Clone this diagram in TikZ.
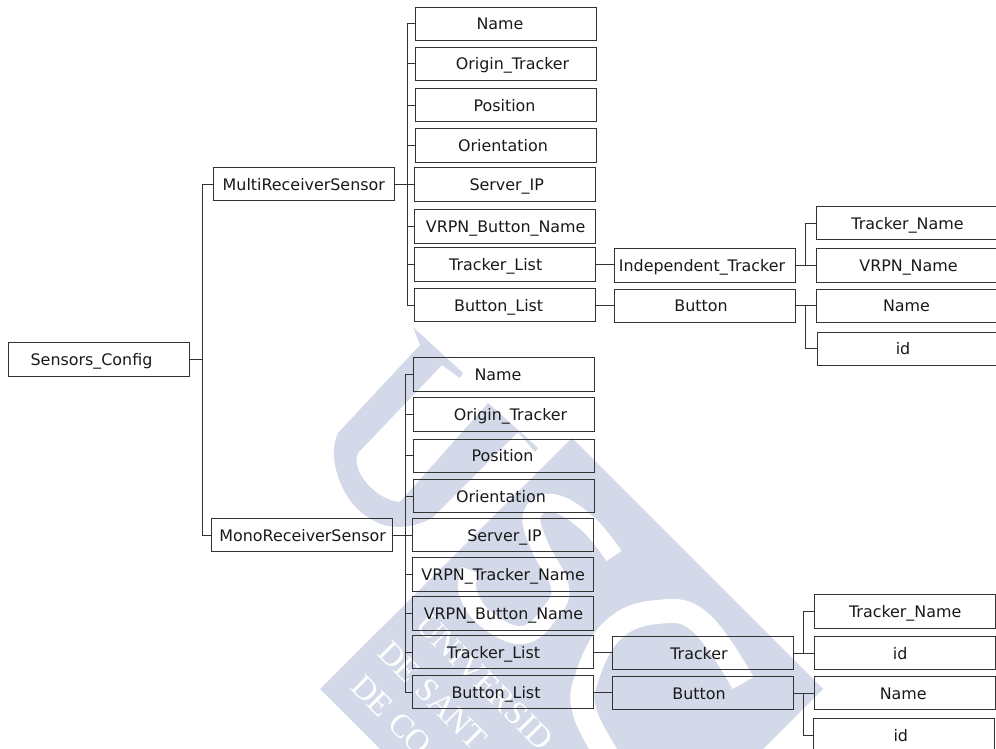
\documentclass[tikz,border=0pt]{standalone}
\usepackage{fontspec}
\setmainfont{DejaVu Sans}
\newfontfamily\crestfont{Liberation Serif}
\definecolor{crest}{HTML}{D3D9E8}
\definecolor{linecol}{HTML}{333333}
\tikzset{
  entry/.style={draw=linecol,line width=1pt,minimum width=181pt,minimum height=33.5pt,
    inner sep=0pt,outer sep=0pt,text height=16pt,text depth=4pt,text=black!90,
    font=\fontsize{15.9}{18}\selectfont},
  elbow/.style={to path={-| (\tikztotarget)}},
  every edge/.style={draw=linecol,line width=1pt},
  crestword/.style={text=white,rotate=-45,anchor=base west,inner sep=0pt,
    font=\crestfont\fontsize{33}{33}\selectfont},
  creststroke/.style={draw=white,line width=#1,line cap=butt,line join=round}
}

\begin{document}
\begin{tikzpicture}[x=1pt,y=-1pt]

  \path[clip,use as bounding box] (0,0) rectangle (996,749);

  % crest behind the boxes
  \fill[crest] (320,689) -- (572,438) -- (823,689) -- (572,940) -- cycle;
  \fill[crest] (413,327) -- (463,373) -- (460,378) -- (442,365) -- (358,453)
    .. controls (350,470) and (375,500) .. (400,502)
    -- (488,403) -- (485,400) -- (538,448) -- (535,452) -- (518,432) -- (432,518)
    .. controls (410,530) and (385,530) .. (368,517)
    .. controls (345,505) and (325,460) .. (338,433)
    -- (420,345) -- cycle;
  \draw[creststroke=18pt] plot[smooth,tension=.7] coordinates
    {(614,556) (587,523) (553,503) (532,515) (540,547) (560,587) (550,613)
     (523,635) (487,620) (468,593) (470,570)};
  \draw[creststroke=24pt] plot[smooth,tension=.7] coordinates
    {(743,683) (700,622) (657,612) (613,630) (587,677) (585,713) (610,760)};
  \node[crestword] (word1) at (414,626) {UNIVERSID};
  \node[crestword] (word2) at (376,654) {DE SANT};
  \node[crestword] (word3) at (349,688) {DE CO};

  % root and the two sensors
  \node[entry] (config) at (98.5,359.3) {Sensors\_Config\hspace*{14pt}};
  \node[entry] (multi) at (303.8,184) {MultiReceiverSensor};
  \node[entry] (mono) at (301.7,535) {\hspace*{2pt}MonoReceiverSensor};

  % upper column
  \node[entry] (mName) at (505.5,24) {Name\hspace*{11pt}};
  \node[entry] (mOrigin) at (505.5,64) {\hspace*{14pt}Origin\_Tracker};
  \node[entry] (mPosition) at (505.5,105.2) {Position\hspace*{2pt}};
  \node[entry] (mOrientation) at (505.5,145.5) {Orientation\hspace*{5pt}};
  \node[entry] (mServer) at (504.7,184.7) {\hspace*{4pt}Server\_IP};
  \node[entry] (mVrpnButton) at (504.7,226.3) {\hspace*{2pt}VRPN\_Button\_Name};
  \node[entry] (mTrackerList) at (504.7,264.7) {Tracker\_List\hspace*{18pt}};
  \node[entry] (mButtonList) at (504.7,305.2) {Button\_List\hspace*{12pt}};
  \node[entry] (mIndep) at (704.5,265.6) {Independent\_Tracker\hspace*{5pt}};
  \node[entry] (mButton) at (704.5,305.8) {Button\hspace*{7pt}};
  \node[entry] (mTrackerName) at (906.5,223) {\hspace*{2pt}Tracker\_Name};
  \node[entry] (mVrpnName) at (906.5,265.6) {\hspace*{4pt}VRPN\_Name};
  \node[entry] (mBtnName) at (906.5,305.8) {Name};
  \node[entry] (mBtnId) at (907.5,348.8) {id\hspace*{9pt}};

  % lower column
  \node[entry] (lName) at (503.5,374.5) {Name\hspace*{11pt}};
  \node[entry] (lOrigin) at (503.5,414.7) {\hspace*{14pt}Origin\_Tracker};
  \node[entry] (lPosition) at (503.5,455.8) {Position\hspace*{2pt}};
  \node[entry] (lOrientation) at (503.5,496) {Orientation\hspace*{5pt}};
  \node[entry] (lServer) at (502.5,535.2) {\hspace*{4pt}Server\_IP};
  \node[entry] (lVrpnTracker) at (503.2,574.5) {VRPN\_Tracker\_Name};
  \node[entry] (lVrpnButton) at (502.5,613.7) {\hspace*{2pt}VRPN\_Button\_Name};
  \node[entry] (lTrackerList) at (502.5,652.2) {Tracker\_List\hspace*{18pt}};
  \node[entry] (lButtonList) at (502.5,692.2) {Button\_List\hspace*{13pt}};
  \node[entry] (lTracker) at (702.5,653) {Tracker\hspace*{7pt}};
  \node[entry] (lButton) at (702.5,693.2) {Button\hspace*{7pt}};
  \node[entry] (lTrackerName) at (904.7,611.3) {\hspace*{1pt}Tracker\_Name};
  \node[entry] (lTrackerId) at (904.7,653) {id\hspace*{9pt}};
  \node[entry] (lBtnName) at (904.7,693.2) {Name\hspace*{3pt}};
  \node[entry] (lBtnId) at (904.3,735) {id\hspace*{7pt}};

  \coordinate (rootFork) at (202.3,359.3);
  \coordinate (mFork) at (407.7,184);
  \coordinate (lFork) at (405.3,535);
  \coordinate (mTrackerFork) at (805,265.6);
  \coordinate (mButtonFork) at (805.3,305.8);
  \coordinate (lTrackerFork) at (803.3,653);
  \coordinate (lButtonFork) at (803.3,693.2);

  \path (config.east) edge (rootFork)
        (multi.west) edge [elbow] (rootFork)
        (mono.west) edge [elbow] (rootFork)
        (multi.east) edge (multi.east -| mServer.west)
        (mName.west) edge [elbow] (mFork)
        (mOrigin.west) edge [elbow] (mFork)
        (mPosition.west) edge [elbow] (mFork)
        (mOrientation.west) edge [elbow] (mFork)
        (mVrpnButton.west) edge [elbow] (mFork)
        (mTrackerList.west) edge [elbow] (mFork)
        (mButtonList.west) edge [elbow] (mFork)
        (mTrackerList.east) edge (mTrackerList.east -| mIndep.west)
        (mButtonList.east) edge (mButtonList.east -| mButton.west)
        (mIndep.east) edge (mVrpnName.west)
        (mTrackerName.west) edge [elbow] (mTrackerFork)
        (mButton.east) edge (mBtnName.west)
        (mBtnId.west) edge [elbow] (mButtonFork)
        (mono.east) edge (mono.east -| lServer.west)
        (lName.west) edge [elbow] (lFork)
        (lOrigin.west) edge [elbow] (lFork)
        (lPosition.west) edge [elbow] (lFork)
        (lOrientation.west) edge [elbow] (lFork)
        (lVrpnTracker.west) edge [elbow] (lFork)
        (lVrpnButton.west) edge [elbow] (lFork)
        (lTrackerList.west) edge [elbow] (lFork)
        (lButtonList.west) edge [elbow] (lFork)
        (lTrackerList.east) edge (lTrackerList.east -| lTracker.west)
        (lButtonList.east) edge (lButtonList.east -| lButton.west)
        (lTracker.east) edge (lTrackerId.west)
        (lTrackerName.west) edge [elbow] (lTrackerFork)
        (lButton.east) edge (lBtnName.west)
        (lBtnId.west) edge [elbow] (lButtonFork);

\end{tikzpicture}
\end{document}
